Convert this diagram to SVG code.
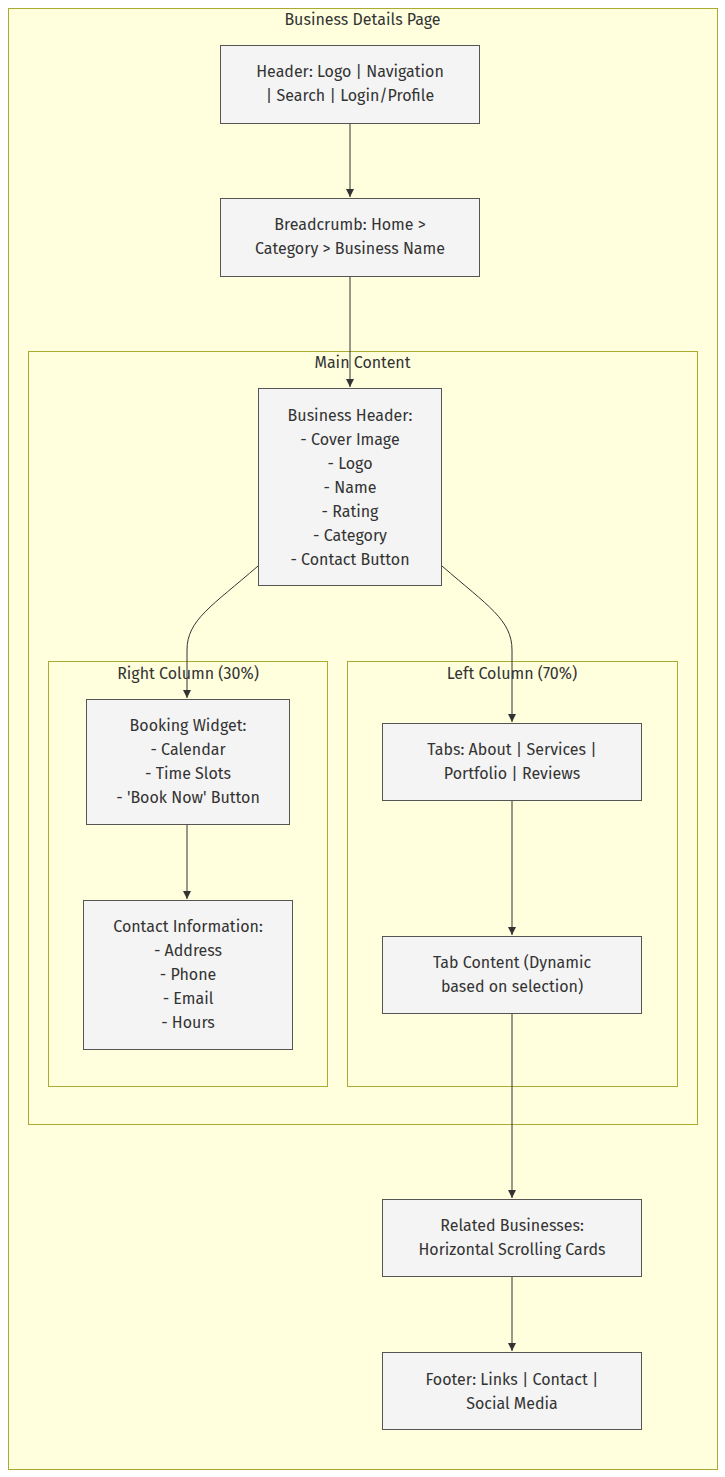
<svg xmlns="http://www.w3.org/2000/svg" width="725" height="1477" viewBox="0 0 725 1477">
<style>
.cl{fill:#ffffde;stroke:#aaaa33;stroke-width:1}
.nd{fill:#f4f4f4;stroke:#555;stroke-width:1}
text{font-family:"Fira Sans","Open Sans","Liberation Sans",sans-serif;font-size:16px;fill:#333;text-anchor:middle}
.ed{fill:none;stroke:#333;stroke-width:1}
</style>
<defs>
<marker id="arr" viewBox="0 0 10 10" refX="10" refY="5" markerWidth="8" markerHeight="8" orient="auto" markerUnits="userSpaceOnUse">
<path d="M0,0 L10,5 L0,10 z" fill="#333"/>
</marker>
</defs>
<g id="cluster-page"><rect class="cl" x="8.5" y="8.5" width="709" height="1461"/><text x="362.5" y="25">Business Details Page</text></g>
<g id="cluster-main"><rect class="cl" x="28.5" y="351.5" width="669" height="773"/><text x="362.5" y="368">Main Content</text></g>
<g id="cluster-right"><rect class="cl" x="48.5" y="661.5" width="279" height="425"/><text x="188" y="679">Right Column (30%)</text></g>
<g id="cluster-left"><rect class="cl" x="347.5" y="661.5" width="330" height="425"/><text x="512" y="679">Left Column (70%)</text></g>
<g id="edges">
<path class="ed" d="M350,123 L350,197" marker-end="url(#arr)"/>
<path class="ed" d="M350,276 L350,387" marker-end="url(#arr)"/>
<path class="ed" d="M258,566 C212,606 187,620 187,650 L187,698" marker-end="url(#arr)"/>
<path class="ed" d="M442,566 C488,606 512,620 512,650 L512,722" marker-end="url(#arr)"/>
<path class="ed" d="M187,825 L187,899" marker-end="url(#arr)"/>
<path class="ed" d="M512,801 L512,935" marker-end="url(#arr)"/>
<path class="ed" d="M512,1014 L512,1198" marker-end="url(#arr)"/>
<path class="ed" d="M512,1277 L512,1351" marker-end="url(#arr)"/>
</g>
<g id="n-header"><rect class="nd" x="220.5" y="45.5" width="259" height="78"/><text x="350" y="77">Header: Logo | Navigation</text><text x="350" y="101">| Search | Login/Profile</text></g>
<g id="n-bread"><rect class="nd" x="220.5" y="198.5" width="259" height="78"/><text x="350" y="230">Breadcrumb: Home &gt;</text><text x="350" y="254">Category &gt; Business Name</text></g>
<g id="n-bizheader"><rect class="nd" x="258.5" y="388.5" width="183" height="197"/>
<text x="350" y="421">Business Header:</text><text x="350" y="445">- Cover Image</text><text x="350" y="469">- Logo</text><text x="350" y="493">- Name</text><text x="350" y="517">- Rating</text><text x="350" y="541">- Category</text><text x="350" y="565">- Contact Button</text></g>
<g id="n-booking"><rect class="nd" x="86.5" y="699.5" width="203" height="125"/>
<text x="188" y="731">Booking Widget:</text><text x="188" y="755">- Calendar</text><text x="188" y="779">- Time Slots</text><text x="188" y="803">- 'Book Now' Button</text></g>
<g id="n-contact"><rect class="nd" x="83.5" y="900.5" width="209" height="149"/>
<text x="188" y="932">Contact Information:</text><text x="188" y="956">- Address</text><text x="188" y="980">- Phone</text><text x="188" y="1004">- Email</text><text x="188" y="1028">- Hours</text></g>
<g id="n-tabs"><rect class="nd" x="382.5" y="723.5" width="259" height="77"/><text x="512" y="755">Tabs: About | Services |</text><text x="512" y="779">Portfolio | Reviews</text></g>
<g id="n-tabcontent"><rect class="nd" x="382.5" y="936.5" width="259" height="77"/><text x="512" y="968">Tab Content (Dynamic</text><text x="512" y="992">based on selection)</text></g>
<g id="n-related"><rect class="nd" x="382.5" y="1199.5" width="259" height="77"/><text x="512" y="1231">Related Businesses:</text><text x="512" y="1255">Horizontal Scrolling Cards</text></g>
<g id="n-footer"><rect class="nd" x="382.5" y="1352.5" width="259" height="77"/><text x="512" y="1385">Footer: Links | Contact |</text><text x="512" y="1409">Social Media</text></g>
</svg>
